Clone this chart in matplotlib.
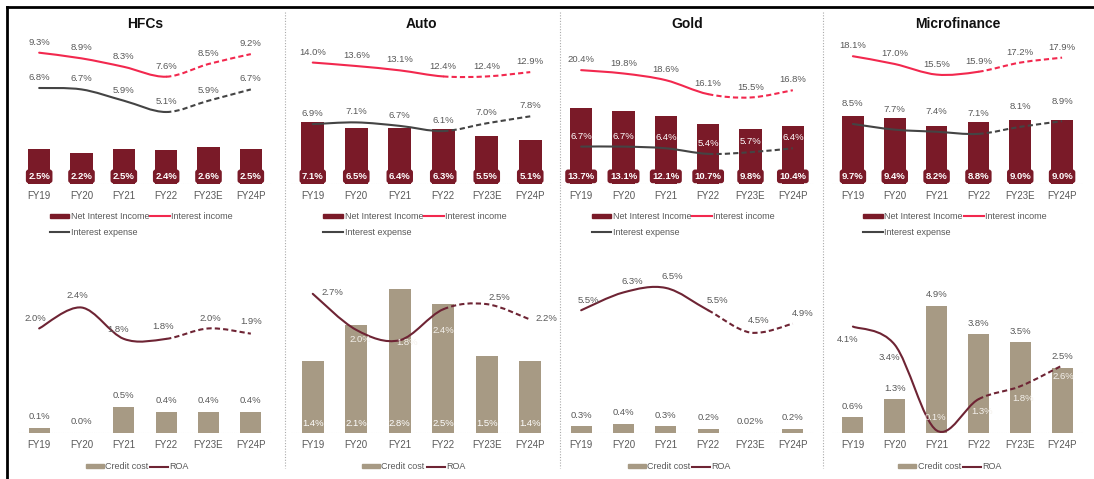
import numpy as np
import matplotlib
matplotlib.use("Agg")
import matplotlib.pyplot as plt
from matplotlib.path import Path
from matplotlib.patches import PathPatch, Patch
from matplotlib.lines import Line2D

years = ["FY19", "FY20", "FY21", "FY22", "FY23E", "FY24P"]
segments = ["HFCs", "Auto", "Gold", "Microfinance"]

# top row: yields / cost / margin (%)
nii = [
    [2.5, 2.2, 2.5, 2.4, 2.6, 2.5],
    [7.1, 6.5, 6.4, 6.3, 5.5, 5.1],
    [13.7, 13.1, 12.1, 10.7, 9.8, 10.4],
    [9.7, 9.4, 8.2, 8.8, 9.0, 9.0],
]
int_income = [
    [9.3, 8.9, 8.3, 7.6, 8.5, 9.2],
    [14.0, 13.6, 13.1, 12.4, 12.4, 12.9],
    [20.4, 19.8, 18.6, 16.1, 15.5, 16.8],
    [18.1, 17.0, 15.5, 15.9, 17.2, 17.9],
]
int_expense = [
    [6.8, 6.7, 5.9, 5.1, 5.9, 6.7],
    [6.9, 7.1, 6.7, 6.1, 7.0, 7.8],
    [6.7, 6.7, 6.4, 5.4, 5.7, 6.4],
    [8.5, 7.7, 7.4, 7.1, 8.1, 8.9],
]
# bottom row: credit cost and ROA (%)
credit_cost = [
    [0.1, 0.0, 0.5, 0.4, 0.4, 0.4],
    [1.4, 2.1, 2.8, 2.5, 1.5, 1.4],
    [0.3, 0.4, 0.3, 0.2, 0.02, 0.2],
    [0.6, 1.3, 4.9, 3.8, 3.5, 2.5],
]
credit_cost_labels = [
    ["0.1%", "0.0%", "0.5%", "0.4%", "0.4%", "0.4%"],
    ["1.4%", "2.1%", "2.8%", "2.5%", "1.5%", "1.4%"],
    ["0.3%", "0.4%", "0.3%", "0.2%", "0.02%", "0.2%"],
    ["0.6%", "1.3%", "4.9%", "3.8%", "3.5%", "2.5%"],
]
roa = [
    [2.0, 2.4, 1.8, 1.8, 2.0, 1.9],
    [2.7, 2.0, 1.8, 2.4, 2.5, 2.2],
    [5.5, 6.3, 6.5, 5.5, 4.5, 4.9],
    [4.1, 3.4, 0.1, 1.3, 1.8, 2.6],
]

# layout / style
C_NII = "#7a1a28"
C_II = "#f2284e"
C_IE = "#444444"
C_CC = "#a79a84"
C_ROA = "#6e2434"
C_TXT = "#595959"

W, H = 1094, 479
ax_x = [(18, 272), (291, 552), (560, 814), (832, 1083)]
top_y = (40, 184)
bot_y = (250, 433)
top_ymax = [10.2, 16.6, 25.8, 20.4]
bot_ymax = [3.5, 3.55, 8.2, 7.05]
cc_inside = [False, True, False, False]
ie_off = [7.5, 7.5, 7.5, 14.5]
# ROA label placement: (dx, dy) in points, label centred
roa_off = [
    [(-3, 7), (-3, 9), (-4, 7), (-2, 9), (1, 7), (0, 9)],
    [(14, 1), (3, -7), (5, -2), (0, -15), (9, 5), (12, 1)],
    [(5, 7), (6, 8), (5, 8), (7, 7), (6, 9), (7, 7)],
    [(-4, -9), (-4, -9), (-1, 9), (3, -9), (2, -9), (1, -8)],
]

plt.rcParams["font.family"] = ["Liberation Sans", "DejaVu Sans"]
fig = plt.figure(figsize=(W / 100, H / 100), dpi=100)


def smooth_path(xs, ys, i0, i1):
    # Catmull-Rom through the points, drawn as bezier curves between i0..i1
    xs = np.asarray(xs, float)
    ys = np.asarray(ys, float)
    n = len(xs)
    verts = [(xs[i0], ys[i0])]
    codes = [Path.MOVETO]
    for i in range(i0, i1):
        p0 = max(i - 1, 0)
        p3 = min(i + 2, n - 1)
        c1 = (xs[i] + (xs[i + 1] - xs[p0]) / 6, ys[i] + (ys[i + 1] - ys[p0]) / 6)
        c2 = (xs[i + 1] - (xs[p3] - xs[i]) / 6, ys[i + 1] - (ys[p3] - ys[i]) / 6)
        verts += [c1, c2, (xs[i + 1], ys[i + 1])]
        codes += [Path.CURVE4] * 3
    return Path(verts, codes)


def draw_line(ax, ys, color):
    x = np.arange(len(ys))
    ax.add_patch(PathPatch(smooth_path(x, ys, 0, 3), fill=False, ec=color, lw=1.5,
                           capstyle="round", zorder=3))
    ax.add_patch(PathPatch(smooth_path(x, ys, 3, len(ys) - 1), fill=False, ec=color,
                           lw=1.5, ls=(0, (2.5, 1.5)), zorder=3))


def style_axis(ax, ymax):
    ax.set_xlim(-0.5, 5.5)
    ax.set_ylim(0, ymax)
    for s in ax.spines.values():
        s.set_visible(False)
    ax.axhline(0, color="#d9d9d9", lw=0.8, ls=(0, (1, 1)), zorder=1)
    ax.set_yticks([])
    ax.set_xticks(range(len(years)))
    ax.set_xticklabels(years, fontsize=7, color=C_TXT)
    ax.tick_params(axis="x", length=0, pad=5)


def axes_rect(x0, x1, y0, y1):
    return [x0 / W, 1 - y1 / H, (x1 - x0) / W, (y1 - y0) / H]


for k, name in enumerate(segments):
    x0, x1 = ax_x[k]
    x = np.arange(len(years))

    # ---- top chart
    ax = fig.add_axes(axes_rect(x0, x1, *top_y))
    style_axis(ax, top_ymax[k])
    ppu = (top_y[1] - top_y[0]) * 0.72 / top_ymax[k]  # points per data unit
    ax.bar(x, nii[k], width=0.52, color=C_NII, zorder=2)
    draw_line(ax, int_income[k], C_II)
    draw_line(ax, int_expense[k], C_IE)
    for i in range(len(years)):
        ax.annotate(f"{nii[k][i]:.1f}%", (i, 0), xytext=(0, 5.5), textcoords="offset points",
                    ha="center", va="center", fontsize=6.8, color="white", fontweight="bold",
                    bbox=dict(boxstyle="round,pad=0.25,rounding_size=0.3", fc=C_NII, ec="none"),
                    zorder=5)
        ax.annotate(f"{int_income[k][i]:.1f}%", (i, int_income[k][i]), xytext=(0, 7.5),
                    textcoords="offset points", ha="center", va="center", fontsize=6.8,
                    color=C_TXT, zorder=5)
        ly = int_expense[k][i] + (ie_off[k] + 4) / ppu
        ax.annotate(f"{int_expense[k][i]:.1f}%", (i, int_expense[k][i]), xytext=(0, ie_off[k]),
                    textcoords="offset points", ha="center", va="center", fontsize=6.8,
                    color="white" if ly < nii[k][i] else C_TXT, zorder=5)
    ax.set_title(name, fontsize=10, fontweight="bold", color="#111111", pad=9)
    handles = [Patch(color=C_NII), Line2D([], [], color=C_IE, lw=1.5),
               Line2D([], [], color=C_II, lw=1.5)]
    labels = ["Net Interest Income", "Interest expense", "Interest income"]
    ax.legend(handles, labels, loc="upper left", bbox_to_anchor=(0.11, -0.17), ncol=2,
              frameon=False, fontsize=6.5, labelcolor=C_TXT, handlelength=2.2,
              handleheight=0.35, handletextpad=0.15, columnspacing=0.1, labelspacing=0.75,
              borderaxespad=0)

    # ---- bottom chart
    ax = fig.add_axes(axes_rect(x0, x1, *bot_y))
    style_axis(ax, bot_ymax[k])
    ppu = (bot_y[1] - bot_y[0]) * 0.72 / bot_ymax[k]
    ax.bar(x, credit_cost[k], width=0.5, color=C_CC, zorder=2)
    draw_line(ax, roa[k], C_ROA)
    for i in range(len(years)):
        if cc_inside[k]:
            ax.annotate(credit_cost_labels[k][i], (i, 0), xytext=(0, 6.5), textcoords="offset points",
                        ha="center", va="center", fontsize=6.8, color="white", zorder=5)
        else:
            ax.annotate(credit_cost_labels[k][i], (i, credit_cost[k][i]), xytext=(0, 8),
                        textcoords="offset points", ha="center", va="center", fontsize=6.8,
                        color=C_TXT, zorder=5)
        dx, dy = roa_off[k][i]
        ly = roa[k][i] + dy / ppu
        inside = ly < credit_cost[k][i] and abs(dx) <= 6
        ax.annotate(f"{roa[k][i]:.1f}%", (i, roa[k][i]), xytext=(dx, dy),
                    textcoords="offset points", ha="center", va="center", fontsize=6.8,
                    color="#f4f1ec" if inside else C_TXT, zorder=5)
    ax.legend([Patch(color=C_CC), Line2D([], [], color=C_ROA, lw=1.5)], ["Credit cost", "ROA"],
              loc="upper center", bbox_to_anchor=(0.47, -0.14), ncol=2, frameon=False,
              fontsize=6.5, labelcolor=C_TXT, handlelength=2.0, handleheight=0.35,
              handletextpad=0.15, columnspacing=0.2, borderaxespad=0)

# separators and frame
for xs in [285, 560, 823]:
    fig.add_artist(Line2D([xs / W, xs / W], [1 - 12 / H, 1 - 468 / H], color="#aaaaaa",
                          lw=0.8, ls=(0, (1, 1.5))))
fig.add_artist(Line2D([7 / W, 1.0], [1 - 7 / H, 1 - 7 / H], color="black", lw=2))
fig.add_artist(Line2D([7 / W, 7 / W], [1 - 7 / H, 0], color="black", lw=2))

fig.savefig("out.png", dpi=100)
